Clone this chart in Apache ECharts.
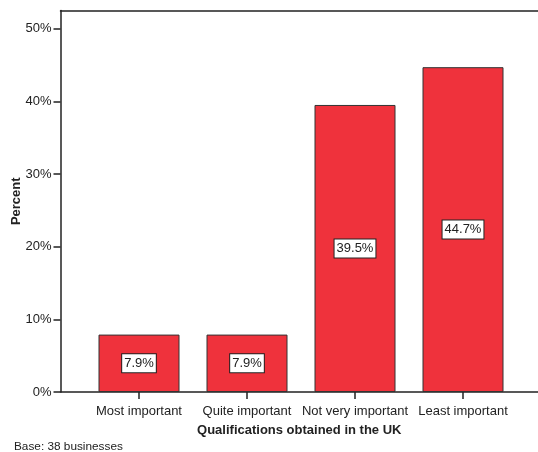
<!DOCTYPE html>
<html>
<head>
<meta charset="utf-8">
<style>
  html, body { margin: 0; padding: 0; background: #fff; }
  #chart { width: 538px; height: 452px; }
</style>
<script src="https://cdn.jsdelivr.net/npm/echarts@6/dist/echarts.min.js"></script>
</head>
<body>
<div id="chart"></div>
<script>
// Ranking of qualifications obtained in the UK
const categories = ['Most important', 'Quite important', 'Not very important', 'Least important'];
const percentValues = [7.9, 7.9, 39.5, 44.7];
const yTicks = [0, 10, 20, 30, 40, 50];
const baseNote = 'Base: 38 businesses';

const FONT = '"Liberation Sans", Arial, Helvetica, sans-serif';
const INK = '#222';
const Y_MAX = 52.5;

const chart = echarts.init(document.getElementById('chart'), null, { renderer: 'canvas' });

const plainLine = { show: true, lineStyle: { color: INK, width: 1.5 } };

chart.setOption({
  animation: false,
  backgroundColor: '#fff',
  textStyle: { fontFamily: FONT },
  grid: [
    // outer frame: value axis on the left, baseline and top rule across
    { left: 60.5, right: 0, top: 10.5, bottom: 60, containLabel: false, outerBoundsMode: 'none' },
    // bars and category ticks
    { left: 85, width: 432, top: 10.5, bottom: 60, containLabel: false, outerBoundsMode: 'none' }
  ],
  title: {
    text: baseNote,
    left: 14, top: 441, padding: 0,
    textStyle: { fontFamily: FONT, fontSize: 11.8, fontWeight: 'normal', color: INK }
  },
  xAxis: [
    {
      gridIndex: 0, type: 'value', min: 0, max: 1, position: 'bottom',
      name: 'Qualifications obtained in the UK',
      nameLocation: 'middle', nameGap: 32,
      nameTextStyle: { fontFamily: FONT, fontSize: 13, fontWeight: 'bold', color: INK },
      axisLine: plainLine,
      axisTick: { show: false }, axisLabel: { show: false }, splitLine: { show: false }
    },
    {
      gridIndex: 0, type: 'value', min: 0, max: 1, position: 'top',
      axisLine: plainLine,
      axisTick: { show: false }, axisLabel: { show: false }, splitLine: { show: false }
    },
    {
      gridIndex: 1, type: 'category', data: categories,
      axisLine: { show: false },
      axisTick: { show: true, alignWithLabel: true, length: 7, lineStyle: { color: INK, width: 1.5 } },
      axisLabel: { fontFamily: FONT, fontSize: 13, color: INK, margin: 13, interval: 0 },
      splitLine: { show: false }
    }
  ],
  yAxis: [
    {
      gridIndex: 0, type: 'value', min: 0, max: Y_MAX, interval: 10,
      name: 'Percent', nameLocation: 'middle', nameGap: 38, nameRotate: 90,
      nameMoveOverlap: false,
      nameTextStyle: { fontFamily: FONT, fontSize: 13, fontWeight: 'bold', color: INK },
      axisLine: plainLine,
      axisTick: {
        show: true, length: 7, lineStyle: { color: INK, width: 1.5 },
        customValues: yTicks
      },
      axisLabel: {
        fontFamily: FONT, fontSize: 13, color: INK, margin: 9,
        customValues: yTicks,
        formatter: v => v + '%'
      },
      splitLine: { show: false }
    },
    {
      gridIndex: 1, type: 'value', min: 0, max: Y_MAX, show: false
    }
  ],
  series: [{
    type: 'bar',
    xAxisIndex: 2, yAxisIndex: 1,
    data: percentValues,
    barWidth: 81,
    itemStyle: { color: '#ef323c', borderColor: '#333', borderWidth: 1 },
    label: {
      show: true, position: 'inside',
      formatter: p => p.value.toFixed(1) + '%',
      fontFamily: FONT, fontSize: 13, color: INK,
      backgroundColor: '#fff', borderColor: '#222', borderWidth: 1,
      padding: [2, 2, 1, 2], lineHeight: 15
    }
  }]
});
</script>
</body>
</html>
